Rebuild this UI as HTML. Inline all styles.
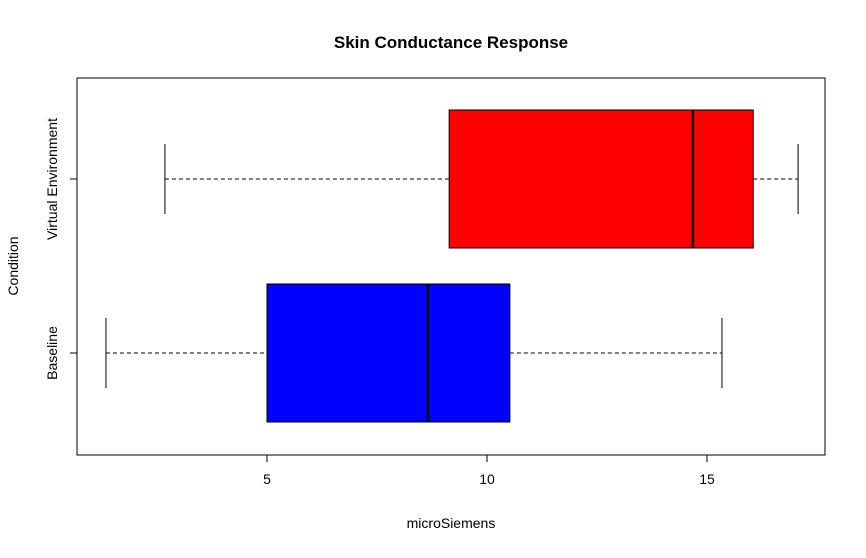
<!DOCTYPE html>
<html><head><meta charset="utf-8"><style>
body{margin:0;background:#fff;}
svg text{font-family:"Liberation Sans",Arial,sans-serif;}
</style></head><body>
<svg id="chart" width="866" height="553" xmlns="http://www.w3.org/2000/svg">
<rect width="866" height="553" fill="#fff"/>
<text x="451" y="48" text-anchor="middle" font-size="17" font-weight="bold">Skin Conductance Response</text>
<rect x="77" y="78" width="748" height="377" fill="none" stroke="#000"/>
<g id="xaxis"></g>
<g id="boxes"></g>
<text x="451" y="528" text-anchor="middle" font-size="14">microSiemens</text>
<text transform="translate(18,266) rotate(-90)" text-anchor="middle" font-size="14">Condition</text>
</svg>
<script>
const categories = ["Baseline", "Virtual Environment"];
const whiskerLow = [1.34, 2.68];
const q1 = [5.0, 9.14];
const medians = [8.66, 14.68];
const q3 = [10.52, 16.05];
const whiskerHigh = [15.34, 17.07];
const colors = ["#0000ff", "#ff0000"];
const xTicks = [5, 10, 15];

const NS = "http://www.w3.org/2000/svg";
function xs(v){ return 267 + (v - 5) * 44; }
function ys(i){ return 353 - i * 174; }
function mk(tag, attrs, parent){
  const e = document.createElementNS(NS, tag);
  for (const k in attrs) e.setAttribute(k, attrs[k]);
  parent.appendChild(e); return e;
}
const xa = document.getElementById("xaxis");
mk("line",{x1:xs(xTicks[0]),x2:xs(xTicks[xTicks.length-1]),y1:455,y2:455,stroke:"#000"},xa);
xTicks.forEach(t=>{
  const l = mk("line",{x1:xs(t),x2:xs(t),y1:455,y2:462,stroke:"#000"},xa);
  
  
  const tx = mk("text",{x:xs(t),y:484,"text-anchor":"middle","font-size":"14"},xa);
  
  
  tx.textContent = t;
});
const bx = document.getElementById("boxes");
categories.forEach((c,i)=>{
  const y = ys(i);
  const g = mk("g",{},bx);
  
  
  mk("line",{x1:xs(whiskerLow[i]),x2:xs(q1[i]),y1:y,y2:y,stroke:"#000","stroke-dasharray":"4,3"},g);
  mk("line",{x1:xs(q3[i]),x2:xs(whiskerHigh[i]),y1:y,y2:y,stroke:"#000","stroke-dasharray":"4,3"},g);
  mk("line",{x1:xs(whiskerLow[i]),x2:xs(whiskerLow[i]),y1:y-35,y2:y+35,stroke:"#000"},g);
  mk("line",{x1:xs(whiskerHigh[i]),x2:xs(whiskerHigh[i]),y1:y-35,y2:y+35,stroke:"#000"},g);
  mk("rect",{x:xs(q1[i]),y:y-69,width:xs(q3[i])-xs(q1[i]),height:138,fill:colors[i],stroke:"#000"},g);
  mk("line",{x1:xs(medians[i]),x2:xs(medians[i]),y1:y-69,y2:y+69,stroke:"#000","stroke-width":2.5},g);
  mk("line",{x1:70,x2:77,y1:y,y2:y,stroke:"#000"},g);
  const t = mk("text",{transform:`translate(57,${y}) rotate(-90)`,"text-anchor":"middle","font-size":"14"},g);
  
  
  t.textContent = c;
});
mk("line",{x1:77,x2:77,y1:ys(1),y2:ys(0),stroke:"#000"},bx);
</script>
</body></html>
